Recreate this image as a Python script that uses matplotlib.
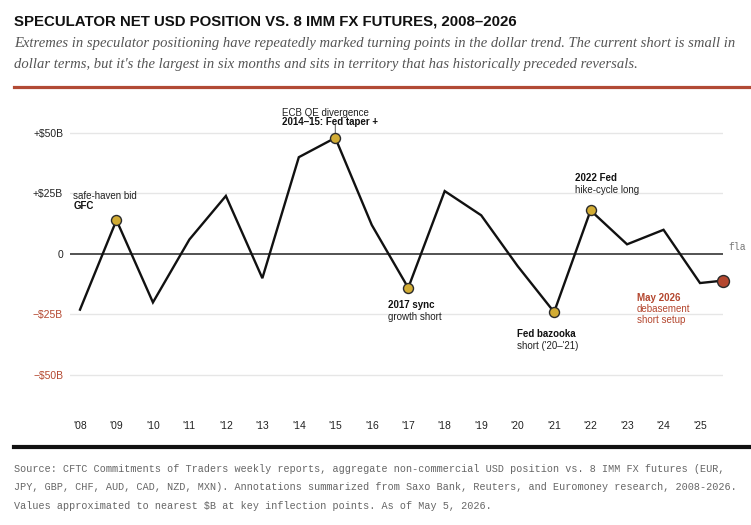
import matplotlib
matplotlib.use("Agg")
import matplotlib.pyplot as plt
from matplotlib.lines import Line2D

# data ($B, net speculator USD position)
years = [2008, 2009, 2010, 2011, 2012, 2013, 2014, 2015, 2016, 2017,
         2018, 2019, 2020, 2021, 2022, 2023, 2024, 2025, 2025.63]
net_usd = [-23, 14, -20, 6, 24, -10, 40, 48, 12, -14,
           26, 16, -5, -24, 18, 4, 10, -12, -11]

tick_years = list(range(2008, 2026))
tick_labels = ["'%02d" % (y % 100) for y in tick_years]
y_ticks = [-50, -25, 0, 25, 50]
y_labels = ["\u2212$50B", "\u2212$25B", "0", "+$25B", "+$50B"]

gold_years = [2009, 2015, 2017, 2021, 2022]
latest_label = "May 2026"

GOLD = "#d2ac34"
RED = "#b4472f"

W, H = 751, 525
plt.rcParams["font.family"] = ["Liberation Sans", "DejaVu Sans"]

fig = plt.figure(figsize=(W / 100, H / 100), dpi=100)


def fx(px):
    return px / W


def fy(py):
    return 1 - py / H


# header
fig.text(fx(14), fy(21), "SPECULATOR NET USD POSITION VS. 8 IMM FX FUTURES, 2008\u20132026",
         weight="bold", fontsize=10.8, color="#111", va="center", ha="left")
fig.text(fx(14), fy(44),
         "Extremes in speculator positioning have repeatedly marked turning points in the dollar trend. The current short is small in",
         family=["Liberation Serif"], style="italic", fontsize=10.55, color="#555", va="center")
fig.text(fx(14), fy(64),
         "dollar terms, but it's the largest in six months and sits in territory that has historically preceded reversals.",
         family=["Liberation Serif"], style="italic", fontsize=10.55, color="#555", va="center")
fig.add_artist(Line2D([fx(14), 1], [fy(87), fy(87)], color="#b24a35", lw=2.3))

# plot area
ax = fig.add_axes([fx(70), fy(400), fx(653), 290 / H])
ax.set_xlim(2008 - 10 / 36.47, 2025 + 23 / 36.47)
ax.set_ylim(-60.33, 59.5)
for s in ax.spines.values():
    s.set_visible(False)

for v in y_ticks:
    if v == 0:
        ax.axhline(v, color="#444", lw=1.3, zorder=1)
    else:
        ax.axhline(v, color="#e6e6e6", lw=1.0, zorder=0)

ax.set_yticks(y_ticks, y_labels, fontsize=7.5)
ax.set_xticks(tick_years, tick_labels, fontsize=7.5)
ax.tick_params(axis="both", length=0)
ax.tick_params(axis="x", pad=15, colors="#222")
ax.tick_params(axis="y", pad=5)
for lab, v in zip(ax.get_yticklabels(), y_ticks):
    lab.set_color(RED if v < 0 else "#222")

ax.plot(years, net_usd, color="#111", lw=1.7, solid_joinstyle="miter", clip_on=False, zorder=3)

gx = [x for x in years if x in gold_years]
gy = [v for x, v in zip(years, net_usd) if x in gold_years]
ax.plot(gx, gy, "o", ms=7.2, mfc=GOLD, mec="#2b2b2b", mew=1.0, clip_on=False, zorder=4)
ax.plot(years[-1], net_usd[-1], "o", ms=8.6, mfc=RED, mec="#2b2b2b", mew=1.0, clip_on=False, zorder=4)

# leader from the 2014-15 note down to its point
ax.annotate("", xy=(2015, net_usd[years.index(2015)]), xytext=(0, 13), textcoords="offset pixels",
            arrowprops=dict(arrowstyle="-", color="#555", lw=0.7, shrinkA=0, shrinkB=0), zorder=2)

# (year, text, weight, colour, dx px, dy px)
notes = [
    (2009, "safe-haven bid", "normal", "#222", -43, 24),
    (2009, "GFC", "bold", "#111", -43, 14),
    (2015, "ECB QE divergence", "normal", "#222", -53, 25),
    (2015, "2014\u201315: Fed taper +", "bold", "#111", -53, 16),
    (2022, "2022 Fed", "bold", "#111", -16, 32),
    (2022, "hike-cycle long", "normal", "#222", -16, 20),
    (2017, "2017 sync", "bold", "#111", -20, -17),
    (2017, "growth short", "normal", "#222", -20, -29),
    (2021, "Fed bazooka", "bold", "#111", -37, -22),
    (2021, "short ('20\u2013'21)", "normal", "#222", -37, -34),
    (years[-1], latest_label, "bold", RED, -86, -17),
    (years[-1], "debasement", "normal", RED, -86, -28.5),
    (years[-1], "short setup", "normal", RED, -86, -39.5),
]
for yr, txt, wt, col, dx, dy in notes:
    ax.annotate(txt, xy=(yr, net_usd[years.index(yr)]), xytext=(dx, dy),
                textcoords="offset pixels", fontsize=7, weight=wt, color=col,
                ha="left", va="center", annotation_clip=False, zorder=5)

ax.annotate("fla", xy=(1, 0), xycoords=("axes fraction", "data"), xytext=(5, 7),
            textcoords="offset pixels", family=["Liberation Mono"], fontsize=7,
            color="#777", ha="left", va="center", annotation_clip=False)

# footer
fig.add_artist(Line2D([fx(14), 1], [fy(447), fy(447)], color="#111", lw=3.0))
footer = [
    "Source: CFTC Commitments of Traders weekly reports, aggregate non-commercial USD position vs. 8 IMM FX futures (EUR,",
    "JPY, GBP, CHF, AUD, CAD, NZD, MXN). Annotations summarized from Saxo Bank, Reuters, and Euromoney research, 2008-2026.",
    "Values approximated to nearest $B at key inflection points. As of May 5, 2026.",
]
for i, line in enumerate(footer):
    fig.text(fx(14), fy(469 + 18.5 * i), line, family=["Liberation Mono"], fontsize=7.25,
             color="#666", va="center")

fig.savefig("out.png", dpi=100, facecolor="white")
